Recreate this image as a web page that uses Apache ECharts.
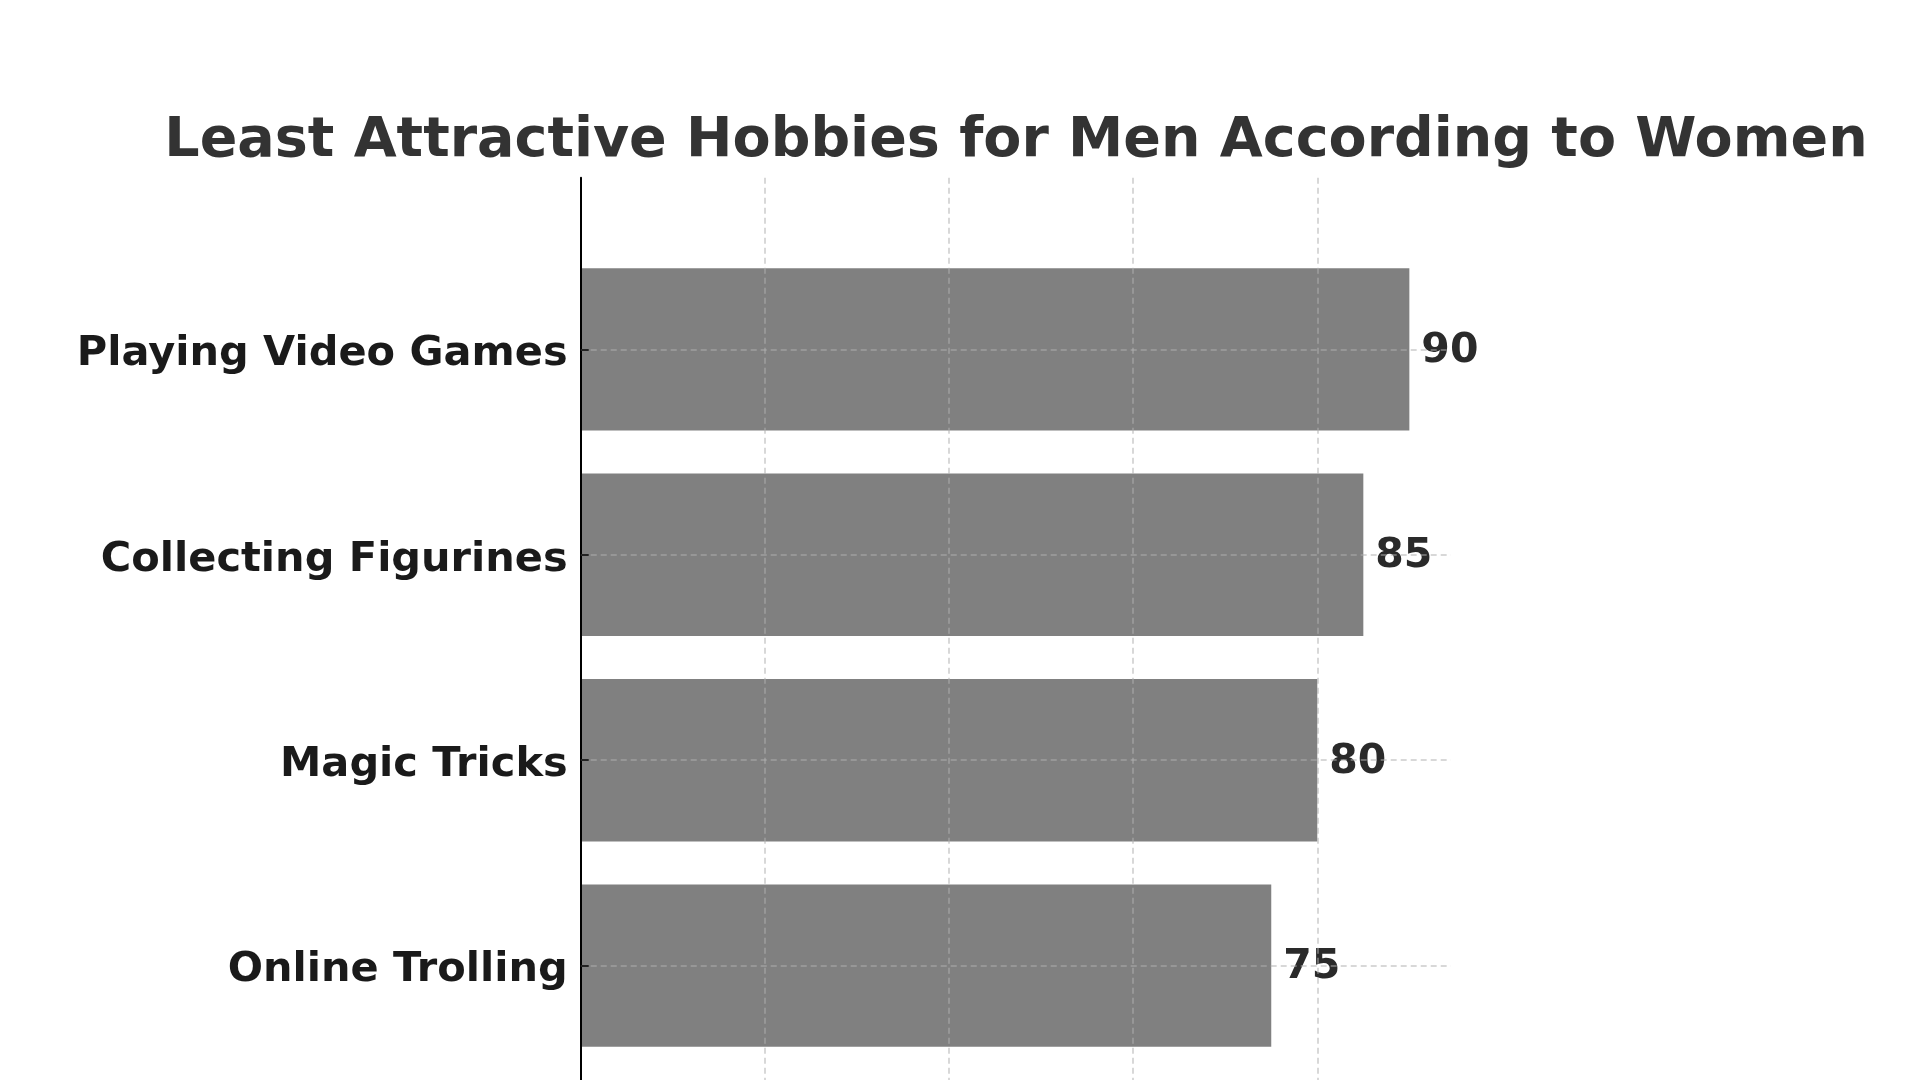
<!DOCTYPE html>
<html>
<head>
<meta charset="utf-8">
<script src="https://cdn.jsdelivr.net/npm/echarts@6/dist/echarts.min.js"></script>
<style>
  html, body { margin: 0; padding: 0; background: #ffffff; }
  #chart { width: 1920px; height: 1080px; }
</style>
</head>
<body>
<div id="chart"></div>
<script>
// ---- data ----
const categories = ['Playing Video Games', 'Collecting Figurines', 'Magic Tricks', 'Online Trolling'];
const values = [90, 85, 80, 75];
const titleText = 'Least Attractive Hobbies for Men According to Women';
const xMax = 94.5;
const xTickStep = 20;
const gridLinePositions = [0, 1, 2, 3];

// ---- layout ----
const PLOT_LEFT = 580.7;
const PLOT_WIDTH = 870.1;
const FRAME_TOP = 177.7;
const BAND = 205.47;
const FIRST_CENTER = 349.3;
const LABEL_SHIFT = 5;
const FONT = '"DejaVu Sans", sans-serif';
const gridColor = 'rgba(176,176,176,0.65)';

const chart = echarts.init(document.getElementById('chart'), null, { renderer: 'canvas' });

const option = {
  backgroundColor: '#ffffff',
  animation: false,
  title: {
    text: titleText,
    left: 1016,
    top: 114,
    textAlign: 'center',
    padding: 0,
    textStyle: { fontFamily: FONT, fontWeight: 'bold', fontSize: 55.5, color: '#333333' }
  },
  grid: [
    { left: PLOT_LEFT, top: FRAME_TOP, width: PLOT_WIDTH, height: (FIRST_CENTER - FRAME_TOP) * 2 + BAND * 3 },
    { left: PLOT_LEFT, top: FIRST_CENTER - BAND / 2, width: PLOT_WIDTH, height: BAND * 4 },
    { left: PLOT_LEFT, top: FIRST_CENTER, width: PLOT_WIDTH, height: BAND * 3 },
    { left: PLOT_LEFT, top: FIRST_CENTER - BAND / 2 + LABEL_SHIFT, width: PLOT_WIDTH, height: BAND * 4 }
  ],
  xAxis: [
    {
      gridIndex: 0, type: 'value', min: 0, max: xMax, interval: xTickStep, z: 10,
      axisLine: { show: false }, axisTick: { show: false }, axisLabel: { show: false },
      splitLine: { show: true, showMinLine: false, showMaxLine: false,
        lineStyle: { color: gridColor, type: [6, 4], width: 1.5 } }
    },
    { gridIndex: 1, type: 'value', min: 0, max: xMax, show: false },
    { gridIndex: 2, type: 'value', min: 0, max: xMax, show: false },
    { gridIndex: 3, type: 'value', min: 0, max: xMax, show: false }
  ],
  yAxis: [
    {
      gridIndex: 0, type: 'value', min: 0, max: 1, z: 11,
      axisLine: { show: true, lineStyle: { color: '#000000', width: 2 } },
      axisTick: { show: false }, axisLabel: { show: false }, splitLine: { show: false }
    },
    {
      gridIndex: 1, type: 'category', data: categories, inverse: true, z: 11,
      axisLine: { show: false },
      axisTick: { show: true, inside: true, alignWithLabel: true, length: 8,
        lineStyle: { color: '#222222', width: 2 } },
      axisLabel: { show: false },
      splitLine: { show: false }
    },
    {
      gridIndex: 2, type: 'value', min: 0, max: gridLinePositions.length - 1, interval: 1, z: 10,
      axisLine: { show: false }, axisTick: { show: false }, axisLabel: { show: false },
      splitLine: { show: true, lineStyle: { color: gridColor, type: [6, 4], width: 1.5 } }
    },
    {
      gridIndex: 3, type: 'category', data: categories, inverse: true, z: 11,
      axisLine: { show: false }, axisTick: { show: false }, splitLine: { show: false },
      axisLabel: { margin: 13, fontFamily: FONT, fontWeight: 'bold', fontSize: 41.5, color: '#1a1a1a' }
    }
  ],
  series: [
    {
      type: 'bar',
      xAxisIndex: 1,
      yAxisIndex: 1,
      data: values,
      barWidth: '79%',
      itemStyle: { color: '#808080' },
      label: {
        show: true, position: 'right', distance: 12, offset: [0, 2],
        fontFamily: FONT, fontWeight: 'bold', fontSize: 41, color: '#2a2a2a'
      }
    }
  ]
};

chart.setOption(option);
</script>
</body>
</html>
